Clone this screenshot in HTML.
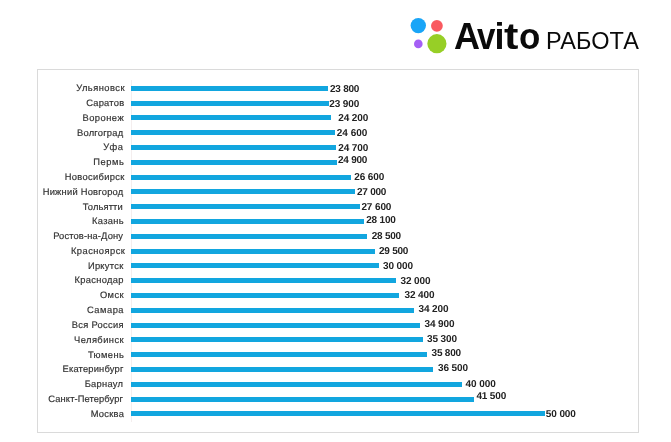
<!DOCTYPE html>
<html lang="ru"><head><meta charset="utf-8"><title>Avito Работа</title>
<style>
html,body{margin:0;padding:0;background:#fff;}
body{width:671px;height:442px;position:relative;overflow:hidden;font-family:"Liberation Sans",sans-serif;}
.box{position:absolute;left:37px;top:69px;width:600px;height:362px;border:1px solid #dadada;background:#fff;}
.axis{position:absolute;left:131px;top:80px;width:1px;height:342px;background:#f4eeee;}
.b{position:absolute;left:131.1px;height:5px;background:#12a6df;}
.c{position:absolute;text-rendering:geometricPrecision;-webkit-text-stroke:0.18px #333;font-size:9.33px;line-height:12px;color:#333;white-space:nowrap;}
.v{position:absolute;text-rendering:geometricPrecision;font-size:10px;line-height:12px;font-weight:bold;color:#222;white-space:nowrap;}
.logo{position:absolute;left:0;top:0;}
.av{position:absolute;left:454px;top:13px;font-size:36px;line-height:48px;height:48px;width:90px;font-weight:bold;color:#0a0a0a;white-space:nowrap;}
.av span{position:absolute;top:0;transform-origin:0 0;}
.rb{position:absolute;left:546px;top:25px;font-size:23.5px;letter-spacing:0.1px;line-height:32px;color:#0a0a0a;white-space:nowrap;}
</style></head><body>
<svg class="logo" width="671" height="66" viewBox="0 0 671 66">
<circle cx="418.3" cy="25.6" r="7.7" fill="#19a5f7"/>
<circle cx="436.9" cy="25.8" r="5.9" fill="#f9595f"/>
<circle cx="418.3" cy="43.9" r="4.3" fill="#a55ff5"/>
<circle cx="436.9" cy="43.7" r="9.6" fill="#97cf26"/>
</svg>
<div class="av"><span style="left:0.00px;transform:scaleX(1.0)">A</span><span style="left:22.60px;transform:scaleX(0.92)">v</span><span style="left:40.40px;transform:scaleX(1.0)">i</span><span style="left:50.00px;transform:scaleX(1.2)">t</span><span style="left:65.00px;transform:scaleX(0.97)">o</span></div>
<div class="rb">РАБОТА</div>
<div class="box"></div>
<div class="axis"></div>
<div class="b" style="top:85.80px;width:197.03px"></div>
<div class="c" id="c0" style="left:76.18px;top:82px;letter-spacing:0.475px">Ульяновск</div>
<div class="v" id="v0" style="left:329.93px;top:83.7px;letter-spacing:-0.221px">23 800</div>
<div class="b" style="top:100.60px;width:197.86px"></div>
<div class="c" id="c1" style="left:86.13px;top:97px;letter-spacing:0.249px">Саратов</div>
<div class="v" id="v1" style="left:329.37px;top:99.1px;letter-spacing:-0.147px">23 900</div>
<div class="b" style="top:115.40px;width:200.33px"></div>
<div class="c" id="c2" style="left:82.44px;top:112px;letter-spacing:0.495px">Воронеж</div>
<div class="v" id="v2" style="left:338.37px;top:112.6px;letter-spacing:-0.147px">24 200</div>
<div class="b" style="top:130.20px;width:203.64px"></div>
<div class="c" id="c3" style="left:77.00px;top:127px;letter-spacing:0.229px">Волгоград</div>
<div class="v" id="v3" style="left:336.81px;top:127.6px;letter-spacing:0.004px">24 600</div>
<div class="b" style="top:145.00px;width:204.47px"></div>
<div class="c" id="c4" style="left:103.16px;top:141px;letter-spacing:0.518px">Уфа</div>
<div class="v" id="v4" style="left:338.37px;top:142.5px;letter-spacing:-0.147px">24 700</div>
<div class="b" style="top:159.80px;width:206.12px"></div>
<div class="c" id="c5" style="left:93.14px;top:156px;letter-spacing:0.613px">Пермь</div>
<div class="v" id="v5" style="left:337.93px;top:155.1px;letter-spacing:-0.221px">24 900</div>
<div class="b" style="top:174.60px;width:220.17px"></div>
<div class="c" id="c6" style="left:64.65px;top:171px;letter-spacing:0.332px">Новосибирск</div>
<div class="v" id="v6" style="left:354.37px;top:171.6px;letter-spacing:-0.147px">26 600</div>
<div class="b" style="top:189.40px;width:223.47px"></div>
<div class="c" id="c7" style="left:42.67px;top:186px;letter-spacing:0.238px">Нижний Новгород</div>
<div class="v" id="v7" style="left:356.93px;top:186.6px;letter-spacing:-0.221px">27 000</div>
<div class="b" style="top:204.20px;width:228.43px"></div>
<div class="c" id="c8" style="left:82.69px;top:201px;letter-spacing:0.140px">Тольятти</div>
<div class="v" id="v8" style="left:361.42px;top:201.5px;letter-spacing:-0.121px">27 600</div>
<div class="b" style="top:219.00px;width:232.56px"></div>
<div class="c" id="c9" style="left:91.97px;top:215px;letter-spacing:0.339px">Казань</div>
<div class="v" id="v9" style="left:366.21px;top:215.4px;letter-spacing:-0.194px">28 100</div>
<div class="b" style="top:233.80px;width:235.86px"></div>
<div class="c" id="c10" style="left:53.15px;top:230px;letter-spacing:0.140px">Ростов-на-Дону</div>
<div class="v" id="v10" style="left:371.74px;top:231.1px;letter-spacing:-0.232px">28 500</div>
<div class="b" style="top:248.60px;width:244.13px"></div>
<div class="c" id="c11" style="left:70.97px;top:245px;letter-spacing:0.453px">Красноярск</div>
<div class="v" id="v11" style="left:378.93px;top:245.6px;letter-spacing:-0.221px">29 500</div>
<div class="b" style="top:263.40px;width:248.26px"></div>
<div class="c" id="c12" style="left:87.95px;top:260px;letter-spacing:0.271px">Иркутск</div>
<div class="v" id="v12" style="left:383.02px;top:260.6px;letter-spacing:-0.118px">30 000</div>
<div class="b" style="top:278.20px;width:264.78px"></div>
<div class="c" id="c13" style="left:74.48px;top:274px;letter-spacing:0.307px">Краснодар</div>
<div class="v" id="v13" style="left:400.41px;top:275.5px;letter-spacing:-0.072px">32 000</div>
<div class="b" style="top:293.00px;width:268.09px"></div>
<div class="c" id="c14" style="left:99.90px;top:289px;letter-spacing:0.415px">Омск</div>
<div class="v" id="v14" style="left:404.41px;top:290.3px;letter-spacing:-0.072px">32 400</div>
<div class="b" style="top:307.80px;width:282.96px"></div>
<div class="c" id="c15" style="left:86.98px;top:304px;letter-spacing:0.510px">Самара</div>
<div class="v" id="v15" style="left:418.41px;top:303.9px;letter-spacing:-0.072px">34 200</div>
<div class="b" style="top:322.60px;width:288.74px"></div>
<div class="c" id="c16" style="left:71.74px;top:319px;letter-spacing:0.296px">Вся Россия</div>
<div class="v" id="v16" style="left:424.41px;top:319.2px;letter-spacing:-0.072px">34 900</div>
<div class="b" style="top:337.40px;width:292.05px"></div>
<div class="c" id="c17" style="left:74.01px;top:334px;letter-spacing:0.446px">Челябинск</div>
<div class="v" id="v17" style="left:427.02px;top:334.2px;letter-spacing:-0.118px">35 300</div>
<div class="b" style="top:352.20px;width:296.18px"></div>
<div class="c" id="c18" style="left:87.92px;top:349px;letter-spacing:0.428px">Тюмень</div>
<div class="v" id="v18" style="left:431.55px;top:348.1px;letter-spacing:-0.194px">35 800</div>
<div class="b" style="top:367.00px;width:301.96px"></div>
<div class="c" id="c19" style="left:62.49px;top:363px;letter-spacing:0.198px">Екатеринбург</div>
<div class="v" id="v19" style="left:438.02px;top:363.1px;letter-spacing:-0.118px">36 500</div>
<div class="b" style="top:381.80px;width:330.88px"></div>
<div class="c" id="c20" style="left:84.67px;top:378px;letter-spacing:0.292px">Барнаул</div>
<div class="v" id="v20" style="left:465.54px;top:378.5px;letter-spacing:-0.058px">40 000</div>
<div class="b" style="top:396.60px;width:343.28px"></div>
<div class="c" id="c21" style="left:48.35px;top:393px;letter-spacing:0.104px">Санкт-Петербург</div>
<div class="v" id="v21" style="left:476.42px;top:391.3px;letter-spacing:-0.158px">41 500</div>
<div class="b" style="top:411.40px;width:413.51px"></div>
<div class="c" id="c22" style="left:90.71px;top:408px;letter-spacing:0.278px">Москва</div>
<div class="v" id="v22" style="left:545.86px;top:409.3px;letter-spacing:-0.124px">50 000</div>
</body></html>
